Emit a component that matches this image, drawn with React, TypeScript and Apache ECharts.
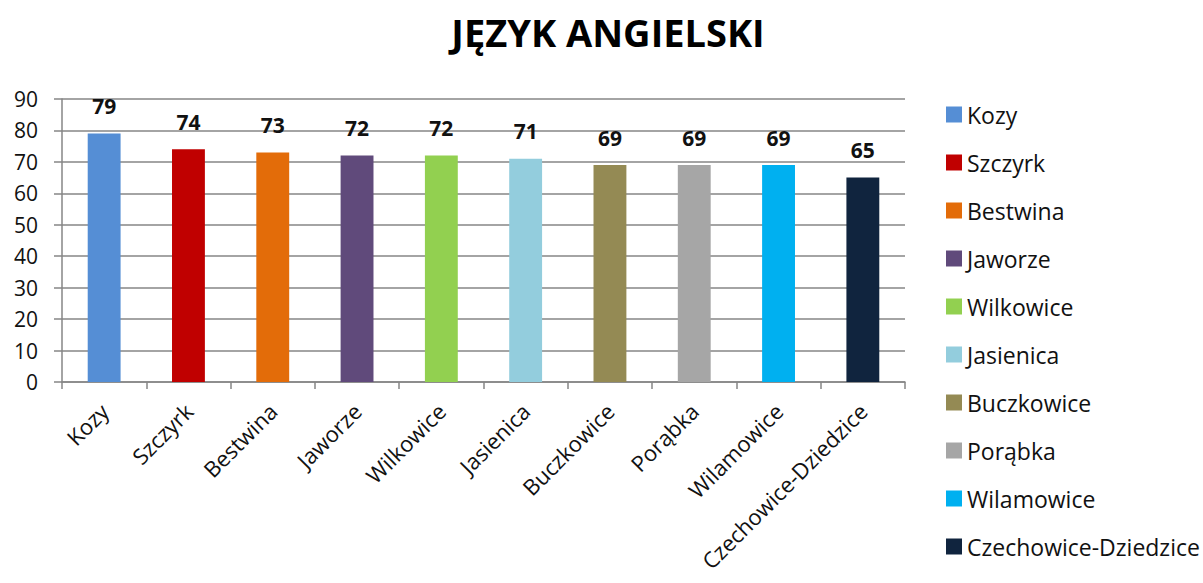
import React, { useEffect, useRef } from "react";
import * as echarts from "echarts";

const categories = [
  "Kozy",
  "Szczyrk",
  "Bestwina",
  "Jaworze",
  "Wilkowice",
  "Jasienica",
  "Buczkowice",
  "Porąbka",
  "Wilamowice",
  "Czechowice-Dziedzice",
];
const values = [79, 74, 73, 72, 72, 71, 69, 69, 69, 65];
const colors = [
  "#558ED5",
  "#C00000",
  "#E36C09",
  "#604A7B",
  "#92D050",
  "#93CDDD",
  "#948A54",
  "#A6A6A6",
  "#00B0F0",
  "#10243E",
];
const yTicks = { min: 0, max: 90, interval: 10 };
const titleText = "JĘZYK ANGIELSKI";

const FONT = "'Open Sans', 'Noto Sans', sans-serif";

export default function App() {
  const ref = useRef<HTMLDivElement>(null);
  useEffect(() => {
    if (!ref.current) return;
    const chart = echarts.init(ref.current, null, { renderer: "svg" });
    const series = categories.map((name, i) => ({
      name,
      type: "bar",
      stack: "all",
      barWidth: "39%",
      itemStyle: { color: colors[i] },
      label: {
        show: true,
        position: "top",
        fontFamily: FONT,
        fontWeight: "bold",
        fontSize: 21,
        color: "#111",
        distance: 17,
      },
      data: categories.map((_, j) => (j === i ? values[i] : "-")),
    }));
    chart.setOption({
      animation: false,
      backgroundColor: "#fff",
      title: {
        text: titleText,
        left: 603,
        textAlign: "center",
        top: 8,
        textStyle: {
          fontFamily: FONT,
          fontWeight: "bold",
          fontSize: 38,
          color: "#000",
        },
      },
      legend: {
        orient: "vertical",
        left: 941,
        top: 98,
        itemWidth: 16,
        itemHeight: 16,
        itemGap: 25,
        icon: "rect",
        textStyle: { fontFamily: FONT, fontSize: 23, color: "#111" },
        data: categories,
      },
      grid: { left: 62, right: 298, top: 99, bottom: 201, containLabel: false },
      xAxis: {
        type: "category",
        data: categories,
        axisLine: { show: true, lineStyle: { color: "#868686", width: 1.5 } },
        axisTick: { show: true, length: 7, lineStyle: { color: "#868686", width: 1.5 } },
        axisLabel: {
          rotate: 45,
          interval: 0,
          fontFamily: FONT,
          fontSize: 22,
          color: "#111",
          margin: 25,
        },
      },
      yAxis: {
        type: "value",
        min: yTicks.min,
        max: yTicks.max,
        interval: yTicks.interval,
        axisLine: { show: true, lineStyle: { color: "#868686", width: 1.5 } },
        axisTick: { show: true, length: 8, lineStyle: { color: "#868686", width: 1.5 } },
        splitLine: { show: true, lineStyle: { color: "#868686", width: 1.5 } },
        axisLabel: { fontFamily: FONT, fontSize: 21, color: "#111", margin: 24 },
      },
      series,
    });
    return () => chart.dispose();
  }, []);
  return (
    <div
      ref={ref}
      style={{ position: "fixed", left: 0, top: 0, width: 1203, height: 583 }}
    />
  );
}
